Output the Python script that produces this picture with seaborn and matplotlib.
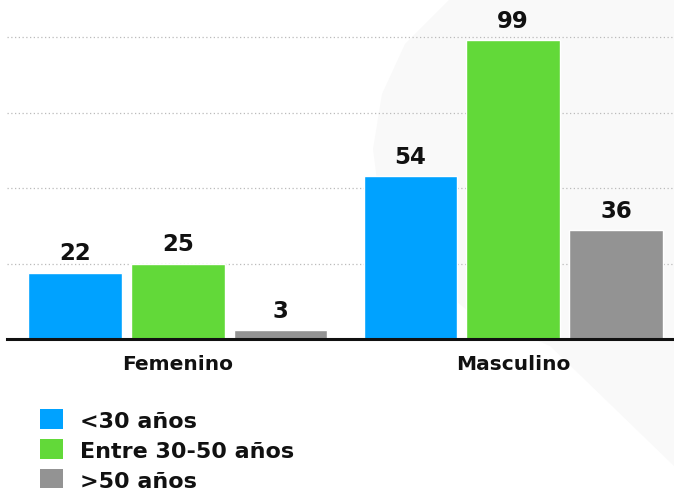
import matplotlib
matplotlib.use('Agg')
import matplotlib.pyplot as plt
from matplotlib.patches import Polygon, Patch
import pandas as pd
import seaborn as sns

# Data
generos = ['Femenino', 'Masculino']
grupos = ['<30 años', 'Entre 30-50 años', '>50 años']
menos_30 = [22, 54]
entre_30_50 = [25, 99]
mas_50 = [3, 36]
colores = ['#00A2FF', '#62D939', '#939393']

df = pd.DataFrame({
    'genero': generos * 3,
    'grupo': [grupos[0]] * 2 + [grupos[1]] * 2 + [grupos[2]] * 2,
    'valor': menos_30 + entre_30_50 + mas_50,
})

sns.set_style('white')
plt.rcParams['font.family'] = ['DejaVu Sans']

W, H = 674, 489
fig = plt.figure(figsize=(W / 100, H / 100), dpi=100)

# faint decorative shape in background (pixel outline -> figure fraction)
forma = [(450, 0), (405, 45), (382, 95), (373, 150), (380, 205), (408, 262),
         (468, 312), (550, 347), (674, 467), (674, 0)]
fig.patches.append(Polygon([(x / W, 1 - y / H) for x, y in forma], closed=True,
                           transform=fig.transFigure, facecolor='#f9f9f9',
                           edgecolor='none', zorder=-10))

ax = fig.add_axes([7 / W, 1 - 340 / H, 1 - 7 / W, 340 / H])
ax.patch.set_alpha(0)

sns.barplot(data=df, x='genero', y='valor', hue='grupo', order=generos,
            hue_order=grupos, palette=colores, width=0.92, gap=0.09,
            saturation=1, ax=ax, legend=False)

for c in ax.containers:
    ax.bar_label(c, padding=6, fontsize=16.5, fontweight='bold', color='#111111')

ax.set_ylim(0, 112.6)
ax.set_xlim(-0.51, 1.48)
ax.set_yticks([25, 50, 75, 100])
ax.set_yticklabels([])
ax.yaxis.grid(True, linestyle=(0, (1, 2)), color='#bbbbbb', linewidth=0.9)
ax.set_axisbelow(True)
ax.tick_params(axis='both', length=0)
ax.tick_params(axis='x', pad=11)
for lbl in ax.get_xticklabels():
    lbl.set_fontweight('bold')
    lbl.set_fontsize(14.5)
    lbl.set_color('#111111')
ax.set_xlabel('')
ax.set_ylabel('')
for s in ['top', 'right', 'left']:
    ax.spines[s].set_visible(False)
ax.spines['bottom'].set_color('#111111')
ax.spines['bottom'].set_linewidth(2.2)

handles = [Patch(facecolor=c, edgecolor='none') for c in colores]
leg = fig.legend(handles, grupos, loc='upper left', bbox_to_anchor=(40 / W, 1 - 410 / H),
                 frameon=False, prop={'weight': 'bold', 'size': 16},
                 handlelength=1.02, handleheight=1.02, handletextpad=0.78,
                 labelspacing=0.38, borderaxespad=0, borderpad=0)
for t in leg.get_texts():
    t.set_color('#111111')

fig.savefig('out.png', dpi=100)
